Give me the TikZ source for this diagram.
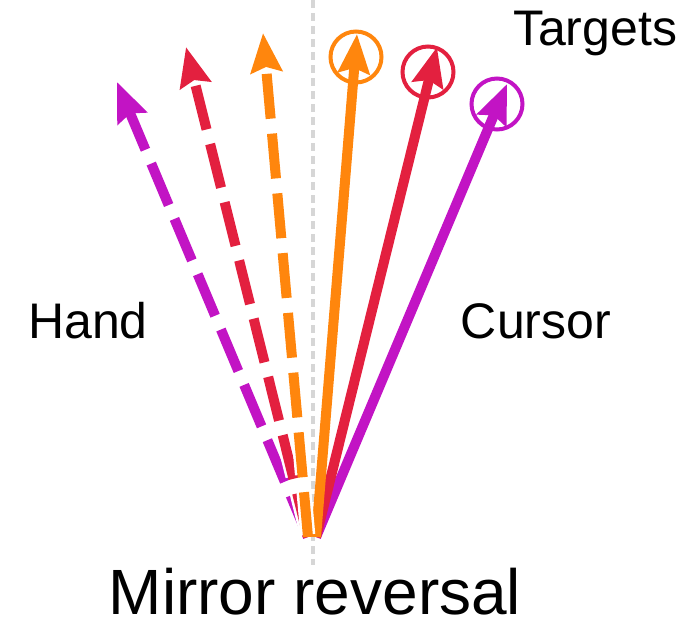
\documentclass[tikz,border=0pt]{standalone}
\usepackage{fontspec}
\setmainfont{Liberation Sans}
\usetikzlibrary{arrows.meta}
\definecolor{cOrange}{HTML}{FF860D}
\definecolor{cRed}{HTML}{E3203F}
\definecolor{cPurple}{HTML}{C214C4}
\definecolor{axisgray}{HTML}{D6D6D6}
\tikzset{
  headtip/.style={-{Stealth[length=39pt,width=31pt,inset=5pt]}},
  cursorarrow/.style={line width=10pt, headtip},
  handwhite/.style={white, line width=15pt, dash pattern=on 50pt off 10pt, dash phase=-2.5pt,
    -{Stealth[length=45pt,width=39pt,inset=6pt]}},
  handarrow/.style={line width=10pt, dash pattern=on 45pt off 15pt, headtip},
  target/.style={circle, draw, line width=4pt, minimum size=51pt, inner sep=0pt},
  label/.style={font=\fontsize{50}{56}\selectfont, anchor=base, inner sep=0pt},
  title/.style={font=\fontsize{64}{70}\selectfont, anchor=base, inner sep=0pt},
}
\begin{document}
\begin{tikzpicture}[x=1pt,y=-1pt]
  \useasboundingbox (0,0) rectangle (690,622);

  % mirror axis
  \coordinate (axtop) at (313,0);
  \coordinate (axbot) at (313,565);
  \draw[axisgray, line width=3.5pt, dash pattern=on 8pt off 5pt] (axtop) -- (axbot);

  % start points
  \coordinate (oc) at (316,537);
  \coordinate (oh) at (308,537);

  % targets
  \node[target, draw=cOrange] (tgO) at (356,57) {};
  \node[target, draw=cRed] (tgR) at (428,72) {};
  \node[target, draw=cPurple] (tgP) at (497,104) {};

  % cursor tips
  \coordinate (cO) at (357,34);
  \coordinate (cR) at (437,47);
  \coordinate (cP) at (507,84);

  % hand tips
  \coordinate (hO) at (263,33);
  \coordinate (hR) at (186,47);
  \coordinate (hP) at (117,82);

  % cursor paths (solid)
  \draw[cursorarrow, cPurple] (oc) -- (cP);
  \draw[cursorarrow, cRed] (oc) -- (cR);
  \draw[cursorarrow, cOrange] (oc) -- (cO);

  % hand paths (dashed, white edged)
  \foreach \tip/\col in {hP/cPurple, hR/cRed, hO/cOrange}{
    \draw[handwhite] (oh) -- (\tip);
    \draw[handarrow, \col] (oh) -- (\tip);
  }

  % labels
  \node[label] (lblT) at (595,45) {Targets};
  \node[label] (lblH) at (88,338) {Hand};
  \node[label] (lblC) at (536,338) {Cursor};
  \node[title] (lblM) at (315,614) {Mirror reversal};
\end{tikzpicture}
\end{document}
